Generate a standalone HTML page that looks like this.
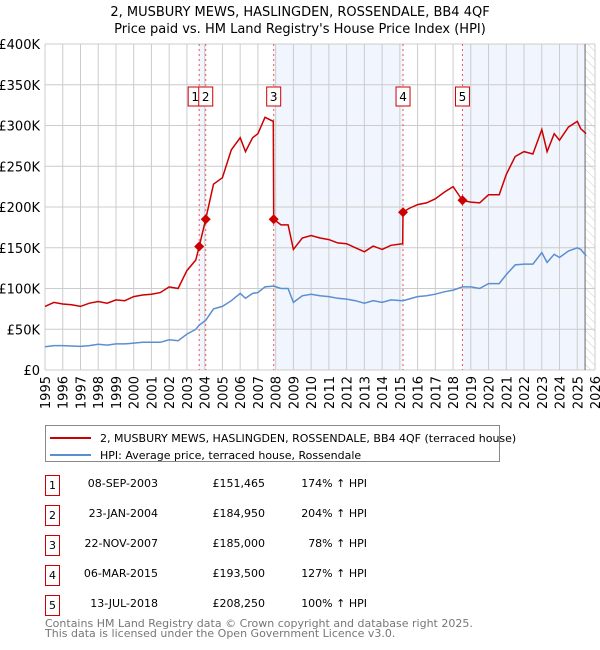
<!DOCTYPE html>
<html><head><meta charset="utf-8">
<style>
body{margin:0;background:#fff;font-family:"DejaVu Sans","Liberation Sans",sans-serif;}
#wrap{position:relative;width:600px;height:650px;overflow:hidden}
.t{position:absolute;font-size:11px;color:#000;white-space:nowrap}
.box{position:absolute;width:15px;height:21px;border:1px solid #c00;box-sizing:border-box;font-size:11px;text-align:center;line-height:19px}
</style></head><body>
<div id="wrap">
<svg id="chart" width="600" height="420" style="position:absolute;left:0;top:0">
<defs><pattern id="hatch" width="6" height="6" patternUnits="userSpaceOnUse" patternTransform="rotate(-45)"><rect width="6" height="6" fill="#fff"/><line x1="0" y1="0" x2="0" y2="6" stroke="#ccc" stroke-width="1"/></pattern></defs>
<text x="300" y="16" text-anchor="middle" font-size="13" font-family="DejaVu Sans, Liberation Sans, sans-serif">2, MUSBURY MEWS, HASLINGDEN, ROSSENDALE, BB4 4QF</text>
<text x="300" y="33" text-anchor="middle" font-size="13" font-family="DejaVu Sans, Liberation Sans, sans-serif">Price paid vs. HM Land Registry's House Price Index (HPI)</text>
<g id="bg"></g><g id="grid"></g><g id="lines"></g><g id="marks"></g><g id="axes"></g>
</svg>
<svg width="600" height="50" style="position:absolute;left:0;top:420px">
<rect x="45.5" y="5.5" width="454" height="36" fill="#fff" stroke="#888"/>
<line x1="50" y1="18" x2="91" y2="18" stroke="#c00" stroke-width="2"/>
<text x="100" y="22" font-size="11" font-family="DejaVu Sans, sans-serif">2, MUSBURY MEWS, HASLINGDEN, ROSSENDALE, BB4 4QF (terraced house)</text>
<line x1="50" y1="35" x2="91" y2="35" stroke="#5b8fd0" stroke-width="2"/>
<text x="100" y="39" font-size="11" font-family="DejaVu Sans, sans-serif">HPI: Average price, terraced house, Rossendale</text>
</svg>
<div id="table"></div>
<div class="t" style="left:45px;top:619px;color:#777;line-height:10px;font-size:11px">Contains HM Land Registry data © Crown copyright and database right 2025.<br>This data is licensed under the Open Government Licence v3.0.</div>
</div>
<script>
const dates=[1995.0,1995.5,1996.0,1996.5,1997.0,1997.5,1998.0,1998.5,1999.0,1999.5,2000.0,2000.5,2001.0,2001.5,2002.0,2002.5,2003.0,2003.5,2003.69,2004.06,2004.5,2005.0,2005.5,2006.0,2006.3,2006.7,2007.0,2007.4,2007.87,2007.89,2008.3,2008.7,2009.0,2009.5,2010.0,2010.5,2011.0,2011.5,2012.0,2012.5,2013.0,2013.5,2014.0,2014.5,2015.16,2015.18,2015.5,2016.0,2016.5,2017.0,2017.5,2018.0,2018.53,2019.0,2019.5,2020.0,2020.6,2021.0,2021.5,2022.0,2022.5,2023.0,2023.3,2023.7,2024.0,2024.5,2025.0,2025.2,2025.5];
const hpiValues=[28.5,30,30,29.5,29,30,31.5,30.5,32,32,33,34,34,34,37,36,44,50,55,61,75,78,85,94,88,94,95,102,103,103,100,100,83,91,93,91,90,88,87,85,82,85,83,86,85,85,87,90,91,93,96,98,102,102,100,106,106,117,129,130,130,144,132,142,138,146,150,148,140];
const propertyValues=[78,83,81,80,78,82,84,82,86,85,90,92,93,95,102,100,122,135,151.5,185,228,236,270,285,268,285,290,310,305,185,178,178,148,162,165,162,160,156,155,150,145,152,148,153,155,193.5,198,203,205,210,218,225,208,206,205,215,215,240,262,268,265,295,268,290,282,298,305,296,290];
const saleLabels=["1","2","3","4","5"];
const saleDates=[2003.69,2004.06,2007.89,2015.18,2018.53];
const salePrices=[151.465,184.95,185,193.5,208.25];
const saleDateText=["08-SEP-2003","23-JAN-2004","22-NOV-2007","06-MAR-2015","13-JUL-2018"];
const salePriceText=["£151,465","£184,950","£185,000","£193,500","£208,250"];
const saleHpiText=["174% ↑ HPI","204% ↑ HPI","78% ↑ HPI","127% ↑ HPI","100% ↑ HPI"];
const yTicks=[0,50,100,150,200,250,300,350,400];
const yTickLabels=["£0","£50K","£100K","£150K","£200K","£250K","£300K","£350K","£400K"];
const xTicks=[1995,1996,1997,1998,1999,2000,2001,2002,2003,2004,2005,2006,2007,2008,2009,2010,2011,2012,2013,2014,2015,2016,2017,2018,2019,2020,2021,2022,2023,2024,2025,2026];

const X0=45,X1=595,Y0=370,Y1=44;
const xs=y=>X0+(y-1995)/(2026-1995)*(X1-X0);
const ys=v=>Y0-v/400*(Y0-Y1);
const NS="http://www.w3.org/2000/svg";
function mk(parent,tag,attrs){const e=document.createElementNS(NS,tag);for(const k in attrs)e.setAttribute(k,attrs[k]);document.getElementById(parent).appendChild(e);return e;}
const dataEnd=2025.44;
let e;
e=mk('bg','rect',{x:X0,y:Y1,width:X1-X0,height:Y0-Y1,fill:'#fff'});


const shades=[[saleDates[0],saleDates[1]],[saleDates[2],saleDates[3]],[saleDates[4],dataEnd]];
shades.forEach(s=>{e=mk('bg','rect',{x:xs(s[0]),y:Y1,width:xs(s[1])-xs(s[0]),height:Y0-Y1,fill:'#eef3fc',opacity:0.8});

});
e=mk('bg','rect',{x:xs(dataEnd),y:Y1,width:X1-xs(dataEnd),height:Y0-Y1,fill:'url(#hatch)'});


yTicks.forEach((t,i)=>{e=mk('grid','line',{x1:X0,x2:X1,y1:ys(t),y2:ys(t),stroke:'#ccc'});


e=mk('axes','text',{x:40,y:ys(t)+5,'text-anchor':'end','font-size':13,'font-family':'DejaVu Sans, sans-serif'});e.textContent=yTickLabels[i];

});
xTicks.forEach(t=>{e=mk('grid','line',{x1:xs(t),x2:xs(t),y1:Y1,y2:Y0,stroke:'#ccc'});


e=mk('axes','text',{x:0,y:0,transform:`translate(${xs(t)+5},${Y0+6}) rotate(-90)`,'text-anchor':'end','font-size':13,'font-family':'DejaVu Sans, sans-serif'});e.textContent=t;

});
e=mk('grid','line',{x1:xs(dataEnd),x2:xs(dataEnd),y1:Y1,y2:Y0,stroke:'#666'});


saleDates.forEach(d=>{e=mk('grid','line',{x1:xs(d),x2:xs(d),y1:Y1,y2:Y0,stroke:'#e55','stroke-dasharray':'2,3'});

});
const path=v=>dates.map((d,i)=>(i?'L':'M')+xs(d).toFixed(1)+','+ys(v[i]).toFixed(1)).join('');
e=mk('lines','path',{d:path(hpiValues),fill:'none',stroke:'#5b8fd0','stroke-width':1.5});


e=mk('lines','path',{d:path(propertyValues),fill:'none',stroke:'#c00','stroke-width':1.5});


saleDates.forEach((d,i)=>{const cx=xs(d),cy=ys(salePrices[i]);
e=mk('marks','path',{d:`M${cx},${cy-5}L${cx+5},${cy}L${cx},${cy+5}L${cx-5},${cy}Z`,fill:'#c00'});


e=mk('marks','rect',{x:cx-7-(i===0?4:0),y:87,width:14,height:19,fill:'#fff',stroke:'#c00'});


e=mk('marks','text',{x:cx-(i===0?4:0),y:101,'text-anchor':'middle','font-size':12,'font-family':'DejaVu Sans, sans-serif'});e.textContent=saleLabels[i];

});
const tb=document.getElementById('table');
saleLabels.forEach((l,i)=>{const y=475+i*30;
const b=document.createElement('div');b.className='box';b.style.left='45px';b.style.top=y+'px';b.textContent=l;

tb.appendChild(b);
[[saleDateText[i],158],[salePriceText[i],265],[saleHpiText[i],367]].forEach(c=>{const d=document.createElement('div');d.className='t';d.style.top=(y+2)+'px';d.style.right=(600-c[1])+'px';d.textContent=c[0];

tb.appendChild(d);});});
</script>
</body></html>
